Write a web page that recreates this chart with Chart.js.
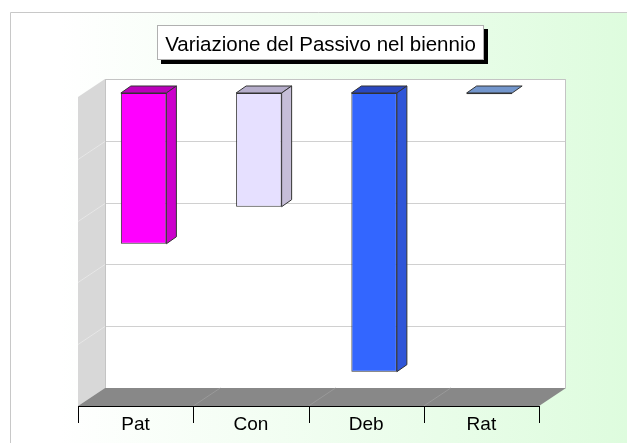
<!DOCTYPE html>
<html>
<head>
<meta charset="utf-8">
<script src="https://cdn.jsdelivr.net/npm/chart.js@4/dist/chart.umd.min.js"></script>
<style>
  html, body { margin: 0; padding: 0; background: #fff; }
  #wrap { position: relative; width: 627px; height: 443px; }
  #title {
    position: absolute; left: 157px; top: 25px; width: 325px; height: 33px;
    background: #fff; border: 1px solid #b0b0b0; box-shadow: 4px 4px 0 #000;
    font: 20.5px "Liberation Sans", Arial, sans-serif; color: #000;
    text-align: center; line-height: 35px; white-space: nowrap;
  }
</style>
</head>
<body>
<div id="wrap">
  <canvas id="chart" width="627" height="443"></canvas>
  <div id="title">Variazione del Passivo nel biennio</div>
</div>
<script>
// data
const categories = ['Pat', 'Con', 'Deb', 'Rat'];
const values = [-2.44, -1.84, -4.51, -0.02];
const yTicks = [0, -1, -2, -3, -4, -5];

// colours per bar: front, side, top
const frontColors = ['#ff00ff', '#e6e0ff', '#3366ff', '#7396cc'];
const sideColors = ['#cc00cc', '#c6bed8', '#2f55d8', '#5c7fb8'];
const topColors = ['#bb00bb', '#b6aecb', '#2a48c0', '#7396cc'];

// depth offsets (back wall vs front plane, bar depth)
const WALL_DX = 19, WALL_DY = 14;
const FLOOR_DX = 8, FLOOR_DY = 4;
const BAR_DX = 10, BAR_DY = 7;

const scene = {
  id: 'scene',
  beforeDraw(chart) {
    const ctx = chart.ctx;
    const a = chart.chartArea;
    const y = chart.scales.y;
    ctx.save();
    // page background
    const g = ctx.createLinearGradient(60, 0, 627, 0);
    g.addColorStop(0, '#ffffff');
    g.addColorStop(1, '#defcde');
    ctx.fillStyle = g;
    ctx.fillRect(10, 12, 617, 431);
    ctx.strokeStyle = '#c8c8c8';
    ctx.lineWidth = 1;
    ctx.beginPath();
    ctx.moveTo(10.5, 443);
    ctx.lineTo(10.5, 12.5);
    ctx.lineTo(627, 12.5);
    ctx.stroke();

    // back wall
    const bl = a.left + WALL_DX, br = a.right + WALL_DX;
    const bt = a.top - WALL_DY, bb = a.bottom - WALL_DY;
    ctx.fillStyle = '#ffffff';
    ctx.fillRect(bl, bt, br - bl, bb - bt);
    // side wall
    const fl = a.left - FLOOR_DX, fb = a.bottom + FLOOR_DY;
    const depthX = bl - fl, depthY = fb - bb;
    ctx.fillStyle = '#d8d8d8';
    ctx.beginPath();
    ctx.moveTo(bl, bt);
    ctx.lineTo(fl, bt + depthY);
    ctx.lineTo(fl, fb);
    ctx.lineTo(bl, bb);
    ctx.closePath();
    ctx.fill();
    // floor
    const fr = a.right - FLOOR_DX;
    ctx.fillStyle = '#888888';
    ctx.beginPath();
    ctx.moveTo(bl, bb);
    ctx.lineTo(br, bb);
    ctx.lineTo(fr, fb);
    ctx.lineTo(fl, fb);
    ctx.closePath();
    ctx.fill();

    // gridlines on back and side wall
    yTicks.forEach(v => {
      const py = Math.round(y.getPixelForValue(v) - WALL_DY) + 0.5;
      if (v !== yTicks[yTicks.length - 1]) {
        ctx.strokeStyle = '#d0d0d0';
        ctx.beginPath();
        ctx.moveTo(bl, py);
        ctx.lineTo(br, py);
        ctx.stroke();
      }
      if (v !== 0 && v !== yTicks[yTicks.length - 1]) {
        ctx.strokeStyle = '#e6e6e6';
        ctx.beginPath();
        ctx.moveTo(bl, py);
        ctx.lineTo(fl, py + depthY);
        ctx.stroke();
      }
    });
    // wall borders
    ctx.strokeStyle = '#c4c4c4';
    ctx.beginPath();
    ctx.moveTo(bl + 0.5, bb);
    ctx.lineTo(bl + 0.5, bt + 0.5);
    ctx.lineTo(br - 0.5, bt + 0.5);
    ctx.lineTo(br - 0.5, bb);
    ctx.stroke();

    // category dividers on floor, axis line, ticks
    const x = chart.scales.x;
    const step = (a.right - a.left) / categories.length;
    ctx.strokeStyle = '#999999';
    for (let i = 1; i < categories.length; i++) {
      const px = a.left + step * i;
      ctx.beginPath();
      ctx.moveTo(px - FLOOR_DX, fb);
      ctx.lineTo(px + WALL_DX, bb);
      ctx.stroke();
    }
    ctx.strokeStyle = '#000000';
    ctx.beginPath();
    ctx.moveTo(fl, fb + 0.5);
    ctx.lineTo(fr, fb + 0.5);
    for (let i = 0; i <= categories.length; i++) {
      const px = Math.round(a.left + step * i - FLOOR_DX) + 0.5;
      ctx.moveTo(px, fb);
      ctx.lineTo(px, fb + 17);
    }
    ctx.stroke();

    // category labels
    ctx.fillStyle = '#000000';
    ctx.font = '19px "Liberation Sans", Arial, sans-serif';
    ctx.textAlign = 'center';
    ctx.textBaseline = 'alphabetic';
    categories.forEach((c, i) => {
      ctx.fillText(c, x.getPixelForValue(i) - FLOOR_DX, 430);
    });
    ctx.restore();
  },
  afterDatasetsDraw(chart) {
    const ctx = chart.ctx;
    const meta = chart.getDatasetMeta(0);
    ctx.save();
    ctx.strokeStyle = '#333333';
    ctx.lineWidth = 1;
    ctx.lineJoin = 'round';
    meta.data.forEach((bar, i) => {
      const p = bar.getProps(['x', 'y', 'base', 'width'], true);
      const left = p.x - p.width / 2, right = p.x + p.width / 2;
      const top = Math.min(p.y, p.base), bottom = Math.max(p.y, p.base);
      // top face
      ctx.fillStyle = topColors[i];
      ctx.beginPath();
      ctx.moveTo(left, top);
      ctx.lineTo(right, top);
      ctx.lineTo(right + BAR_DX, top - BAR_DY);
      ctx.lineTo(left + BAR_DX, top - BAR_DY);
      ctx.closePath();
      ctx.fill();
      ctx.stroke();
      // side face
      if (bottom - top > 2) {
        ctx.fillStyle = sideColors[i];
        ctx.beginPath();
        ctx.moveTo(right, top);
        ctx.lineTo(right + BAR_DX, top - BAR_DY);
        ctx.lineTo(right + BAR_DX, bottom - BAR_DY);
        ctx.lineTo(right, bottom);
        ctx.closePath();
        ctx.fill();
        ctx.stroke();
      }
    });
    ctx.restore();
  }
};

new Chart(document.getElementById('chart'), {
  type: 'bar',
  data: {
    labels: categories,
    datasets: [{
      data: values,
      backgroundColor: frontColors,
      borderColor: '#333333',
      borderWidth: 1,
      borderSkipped: false,
      barPercentage: 0.395,
      categoryPercentage: 1
    }]
  },
  options: {
    responsive: false,
    animation: false,
    layout: { padding: { left: 86, right: 80, top: 93, bottom: 41 } },
    plugins: { legend: { display: false }, title: { display: false }, tooltip: { enabled: false } },
    scales: {
      x: { display: false, offset: true },
      y: { display: false, min: -5, max: 0, ticks: { stepSize: 1 } }
    }
  },
  plugins: [scene]
});
</script>
</body>
</html>
